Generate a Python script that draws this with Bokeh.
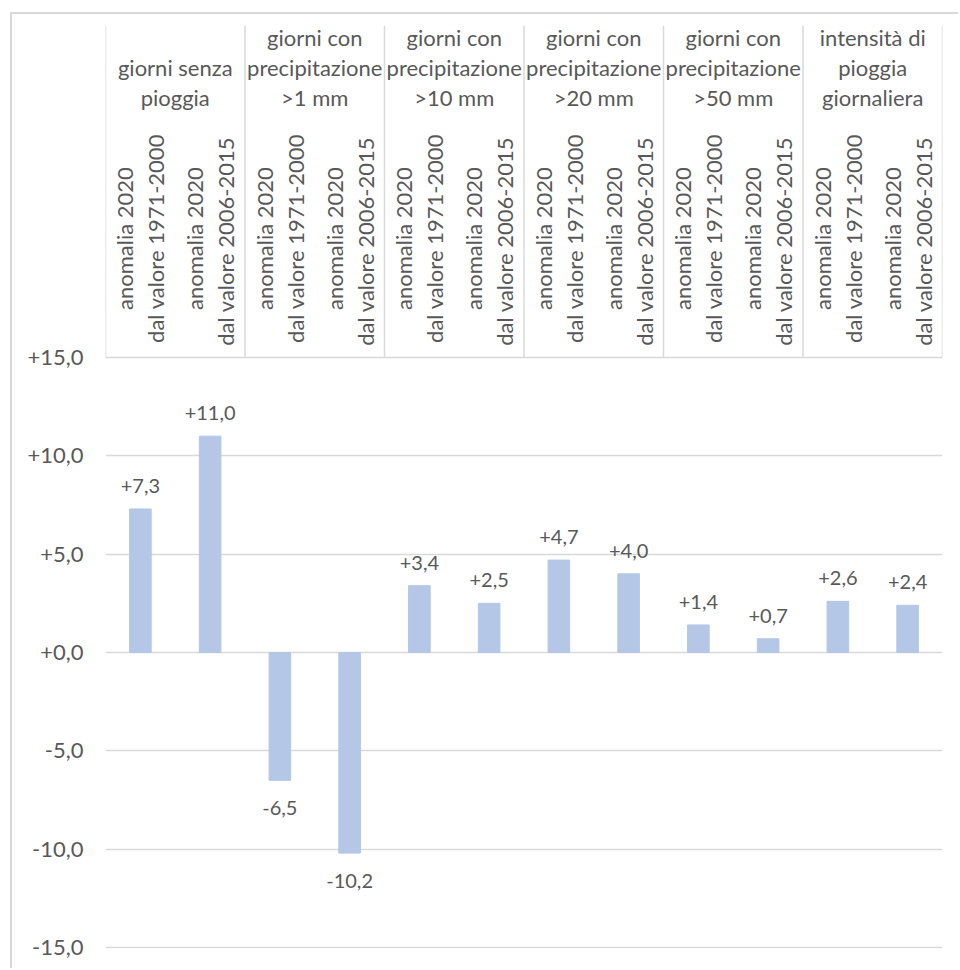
import math
from bokeh.plotting import figure
from bokeh.models import Range1d, FixedTicker, ColumnDataSource
from bokeh.core.properties import value
from bokeh.embed import file_html
from bokeh.resources import INLINE

# ---------------- data ----------------
groups = [
    "giorni senza\npioggia",
    "giorni con\nprecipitazione\n>1 mm",
    "giorni con\nprecipitazione\n>10 mm",
    "giorni con\nprecipitazione\n>20 mm",
    "giorni con\nprecipitazione\n>50 mm",
    "intensità di\npioggia\ngiornaliera",
]
subs = ["anomalia 2020\ndal valore 1971-2000", "anomalia 2020\ndal valore  2006-2015"]
values = [7.3, 11.0, -6.5, -10.2, 3.4, 2.5, 4.7, 4.0, 1.4, 0.7, 2.6, 2.4]
y_ticks = [-15, -10, -5, 0, 5, 10, 15]

# ---------------- style ----------------
FONT = "Lato"
TXT = "#595959"
GRID = "#d9d9d9"
BAR = "#b4c7e7"

Y_TOP = 31.88
p = figure(width=948, height=956, output_backend="svg", toolbar_location=None,
           x_range=Range1d(0, len(values)), y_range=Range1d(-15.05, Y_TOP),
           min_border_left=93, min_border_right=18, min_border_top=11,
           min_border_bottom=22)
p.styles = {"margin-left": "10px", "margin-top": "12px",
            "border-left": "2px solid #d9d9d9", "border-top": "2px solid #d9d9d9"}
p.outline_line_color = None
p.background_fill_color = "white"
p.border_fill_color = "white"

p.xaxis.visible = False
p.xgrid.visible = False
p.yaxis.ticker = FixedTicker(ticks=y_ticks)
p.yaxis.major_label_overrides = {t: (f"{t:+.1f}").replace(".", ",") for t in y_ticks}
p.yaxis.axis_line_color = None
p.yaxis.major_tick_line_color = None
p.yaxis.minor_tick_line_color = None
p.yaxis.major_tick_in = 0
p.yaxis.major_tick_out = 0
p.yaxis.major_label_standoff = 22
p.yaxis.major_label_text_font = FONT
p.yaxis.major_label_text_font_size = "22px"
p.yaxis.major_label_text_color = TXT
p.ygrid.ticker = FixedTicker(ticks=y_ticks)
p.ygrid.grid_line_color = GRID
p.ygrid.grid_line_width = 1.5

# bars
xs = [i + 0.5 for i in range(len(values))]
labels = [(f"{v:+.1f}").replace(".", ",") for v in values]
src = ColumnDataSource(dict(x=xs, top=values, lab=labels,
                            off=[-23 if v >= 0 else 28 for v in values]))
p.vbar(x="x", top="top", bottom=0, width=0.31, source=src,
       fill_color=BAR, line_color=BAR)
p.text(x="x", y="top", text="lab", y_offset="off", source=src,
       text_font=value(FONT), text_font_size="20px", text_color=TXT,
       text_align="center", text_baseline="middle")

# header: separators
n_groups = len(groups)
sep_x = [2 * i for i in range(n_groups + 1)]
p.segment(x0=sep_x, y0=[15] * len(sep_x), x1=sep_x, y1=[Y_TOP] * len(sep_x),
          line_color=GRID, line_width=1.5)

# header: group labels
p.text(x=[2 * i + 1 for i in range(n_groups)], y=[27.55] * n_groups, text=groups,
       text_font=value(FONT), text_font_size="22px", text_color=TXT,
       text_align="center", text_baseline="bottom", text_line_height=1.1)

# header: sub labels (rotated)
sub_text = [subs[i % 2] for i in range(len(values))]
p.text(x=xs, y=[21.05] * len(xs), text=sub_text, angle=math.pi / 2,
       text_font=value(FONT), text_font_size="22px", text_color=TXT,
       text_align="center", text_baseline="middle", text_line_height=1.14)

open("out.html", "w").write(file_html(p, INLINE))
